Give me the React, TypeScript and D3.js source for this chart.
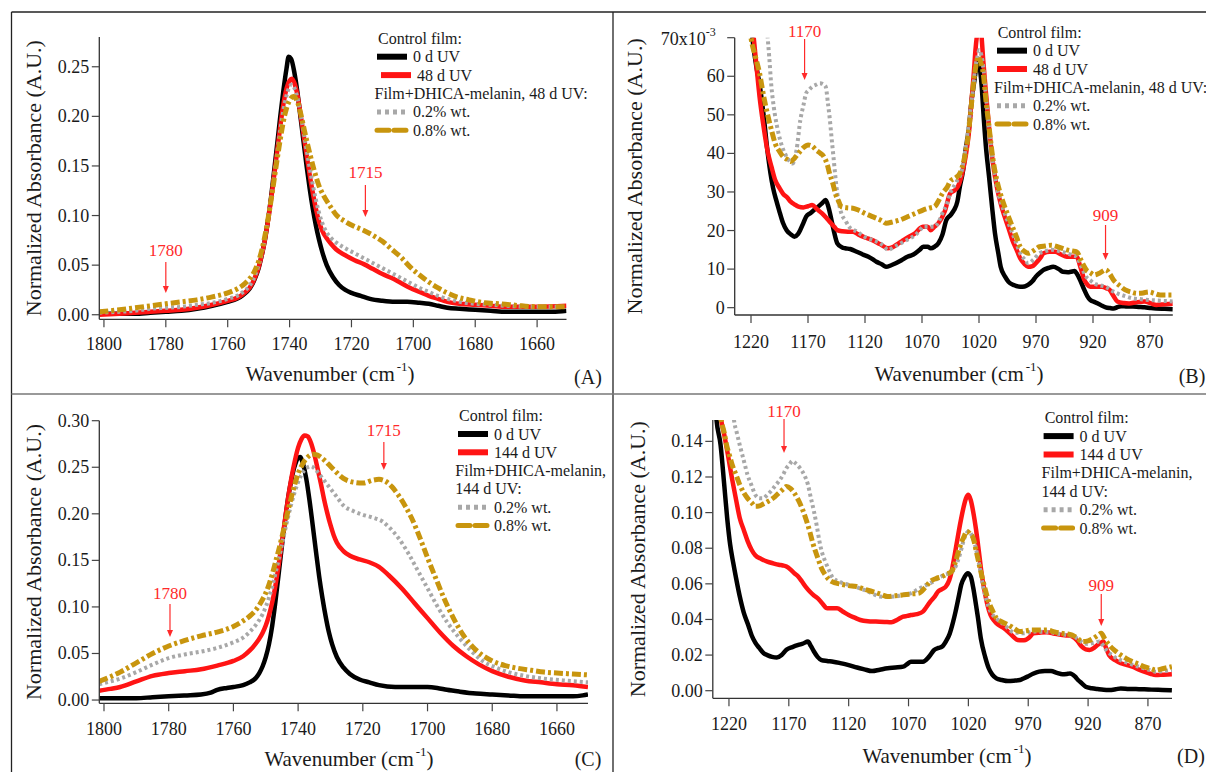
import React from 'react';
import * as d3 from 'd3';

type Pt = [number, number];

// ---------------- Panel A : carbonyl region, 48 d UV ----------------
const A_black: Pt[] = [[1801.5,0.001],[1795,0.001],[1790,0.001],[1785,0.002],[1780,0.003],[1775,0.004],[1770,0.006],[1765,0.009],[1760,0.013],[1757,0.016],[1755,0.020],[1753,0.026],[1752,0.031],[1751,0.038],[1750,0.047],[1749,0.060],[1748,0.075],[1747,0.095],[1746,0.118],[1745,0.145],[1744,0.172],[1743,0.200],[1742,0.226],[1741,0.248],[1740.3,0.260],[1739.5,0.258],[1738.5,0.245],[1737.5,0.225],[1736.5,0.200],[1735.5,0.175],[1734.5,0.150],[1733.5,0.127],[1732.5,0.107],[1731.5,0.090],[1730.5,0.076],[1729.5,0.064],[1728,0.050],[1726,0.038],[1724,0.030],[1722,0.025],[1720,0.022],[1717,0.019],[1714,0.016],[1710,0.014],[1706,0.013],[1702,0.013],[1698,0.012],[1695,0.011],[1692,0.009],[1689,0.007],[1685,0.006],[1680,0.005],[1675,0.004],[1670,0.003],[1665,0.003],[1660,0.003],[1655,0.003],[1650.5,0.004]];
const A_red: Pt[] = [[1801.5,0.000],[1795,0.001],[1790,0.002],[1785,0.003],[1780,0.004],[1775,0.005],[1770,0.007],[1765,0.010],[1760,0.014],[1757,0.017],[1755,0.021],[1753,0.027],[1752,0.032],[1751,0.039],[1750,0.048],[1749,0.060],[1748,0.075],[1747,0.094],[1746,0.116],[1745,0.140],[1744,0.165],[1743,0.190],[1742,0.212],[1741,0.228],[1740,0.236],[1739.3,0.238],[1738.5,0.234],[1737.5,0.222],[1736.5,0.203],[1735.5,0.182],[1734.5,0.161],[1733.5,0.141],[1732.5,0.123],[1731.5,0.107],[1730.5,0.094],[1729.5,0.085],[1728,0.077],[1726.5,0.071],[1725,0.066],[1722,0.060],[1719,0.055],[1716,0.051],[1713,0.046],[1710,0.041],[1707,0.037],[1704,0.032],[1701,0.027],[1698,0.023],[1695,0.019],[1692,0.016],[1689,0.013],[1685,0.011],[1680,0.010],[1675,0.009],[1670,0.008],[1660,0.008],[1650.5,0.009]];
const A_gray: Pt[] = [[1801.5,0.002],[1795,0.003],[1790,0.004],[1785,0.006],[1780,0.007],[1775,0.008],[1770,0.010],[1765,0.012],[1760,0.016],[1757,0.019],[1755,0.023],[1753,0.029],[1752,0.034],[1751,0.041],[1750,0.050],[1749,0.062],[1748,0.077],[1747,0.096],[1746,0.117],[1745,0.140],[1744,0.163],[1743,0.186],[1742,0.206],[1741,0.221],[1740,0.230],[1739.3,0.232],[1738.5,0.229],[1737.5,0.219],[1736.5,0.203],[1735.5,0.185],[1734.5,0.166],[1733.5,0.148],[1732.5,0.131],[1731.5,0.116],[1730.5,0.103],[1729.5,0.093],[1728,0.083],[1726.5,0.077],[1725,0.073],[1722,0.067],[1719,0.062],[1716,0.057],[1713,0.052],[1710,0.047],[1707,0.042],[1704,0.037],[1701,0.032],[1698,0.027],[1695,0.023],[1692,0.019],[1689,0.016],[1685,0.013],[1680,0.011],[1675,0.010],[1670,0.009],[1660,0.008],[1650.5,0.008]];
const A_gold: Pt[] = [[1801.5,0.003],[1795,0.005],[1790,0.007],[1785,0.009],[1780,0.011],[1775,0.013],[1770,0.015],[1765,0.018],[1760,0.022],[1757,0.026],[1755,0.030],[1753,0.036],[1752,0.040],[1751,0.046],[1750,0.054],[1749,0.065],[1748,0.079],[1747,0.096],[1746,0.115],[1745,0.136],[1744,0.157],[1743,0.177],[1742,0.195],[1741,0.208],[1740,0.216],[1738.8,0.220],[1737.5,0.215],[1736.5,0.204],[1735.5,0.190],[1734.5,0.176],[1733.5,0.163],[1732,0.145],[1730.5,0.130],[1729,0.120],[1727,0.110],[1725,0.101],[1722,0.094],[1719,0.089],[1716,0.085],[1713,0.080],[1710,0.074],[1707,0.066],[1704,0.058],[1701,0.048],[1698,0.040],[1695,0.033],[1692,0.027],[1689,0.022],[1686,0.018],[1682,0.015],[1677,0.012],[1672,0.011],[1665,0.009],[1660,0.008],[1655,0.008],[1650.5,0.008]];

// ---------------- Panel B : fingerprint region, 48 d UV (x10^-3) ----------------
const B_black: Pt[] = [[1236,100],[1222,80],[1218,68],[1215,62],[1212.5,58],[1209,50],[1205.7,41],[1203,35],[1200.6,31],[1198,28],[1195.4,25.3],[1192,22],[1188.6,20],[1185,19],[1182,18.4],[1179,19],[1176.7,20.2],[1174,22],[1171.6,23.6],[1168,24.5],[1164.7,25.3],[1161,26.2],[1157.9,27],[1154.5,27.9],[1152,26],[1149.4,22.7],[1147,19.5],[1144.3,16.7],[1140,15.6],[1137.4,15.4],[1133,15.2],[1127.2,14.5],[1122,13.8],[1117,13.2],[1113,12.5],[1110,11.9],[1105,11.2],[1101.6,10.6],[1097,11],[1093,11.5],[1088,12.3],[1082.8,13.2],[1079,13.6],[1076,14.1],[1072,15],[1069,15.8],[1065,15.8],[1062.4,15.4],[1059,15.8],[1055.6,16.7],[1052,19],[1048.7,22.7],[1045,24],[1041.9,25.3],[1039,27.5],[1036.8,31.4],[1034,35.5],[1031.7,41],[1029,46],[1026.5,53.8],[1024,59],[1022.1,63],[1020.5,64],[1019,61.5],[1017.5,57],[1016.3,51.3],[1014,42],[1011.2,34],[1008.5,26],[1006,19.3],[1003,14],[1001,10.6],[997,8],[994.1,6.7],[989,5.8],[983.9,5.4],[980,5.5],[977,5.9],[973,6.9],[970.3,8],[966,9.2],[963.4,9.8],[959,10.3],[954.9,10.6],[950,10],[946.4,9.3],[942,9.2],[939.6,9.3],[936,9.5],[934.4,8.9],[931,7],[927.6,4.6],[925,3],[922.5,2],[919,1.5],[915.7,1.1],[912,0.5],[908.8,0.1],[905,-0.1],[902,-0.2],[898,0.2],[895.2,0.4],[890,0.3],[885,0.3],[880,0.2],[874.7,0.1],[869,-0.1],[864.5,-0.2],[857,-0.3],[850,-0.4]];
const B_red: Pt[] = [[1236,110],[1222,80],[1217.6,70],[1215,62],[1212.5,54.7],[1209,47],[1205.7,40.9],[1202,36.5],[1198.8,33.1],[1195,31],[1192,29.6],[1188,28.5],[1185.2,27.5],[1182,26.8],[1178.4,26.2],[1174,26],[1170,26.3],[1166.4,26.6],[1162,25.5],[1157.9,24.5],[1154,23.3],[1151,22.3],[1147,21],[1144.3,20.1],[1140,19.8],[1135,19.7],[1130.6,19.7],[1126,19],[1120,18.2],[1113.6,17.5],[1107,16.5],[1100,15.4],[1095,15.8],[1090,16.8],[1086.3,17.5],[1081,18.5],[1076,19.3],[1072,20.5],[1069.2,21],[1065,21],[1062.4,20.1],[1059,21],[1055.6,21.9],[1050,25],[1045.3,29.6],[1041,30.5],[1038.5,31.4],[1035,34.5],[1031.7,39.2],[1029,45],[1026.5,53.8],[1024.5,61],[1023.1,66.8],[1021,72],[1019.7,73],[1018,71],[1016.3,64.2],[1014,56],[1011.2,46.9],[1008,38],[1004.4,31.4],[1001,27],[997.5,23.6],[994,20.5],[990.7,17.5],[987,15],[983.9,12.8],[980,11.3],[977,10.6],[973,10.8],[970.3,11.5],[966,13],[963.4,14.1],[958,14.5],[953.2,14.5],[948,13.8],[943,13.2],[938,13.2],[934.4,13.2],[931,10.5],[927.6,7.2],[925,6],[922.5,5.4],[917,5.4],[912.3,5.4],[908,5],[905.4,4.6],[902,3],[898.6,1.6],[893,1.2],[888.4,1.1],[882,1.4],[874.7,1.6],[869,1.1],[864.5,0.7],[857,0.9],[850,1]];
const B_gray: Pt[] = [[1236,140],[1212,90],[1206,72],[1204,65],[1202.3,58],[1200,52],[1197.1,46.9],[1194,43],[1190.3,40],[1187,38.3],[1183.5,37.4],[1180,41],[1176.7,48.7],[1174,52.5],[1171.6,55.6],[1169,56.5],[1166.4,57.3],[1163,57.8],[1159.6,58.2],[1157,58],[1154.5,57.3],[1152.5,53],[1151.1,49.5],[1149.3,44],[1147.7,39.2],[1146,34],[1144.3,29.6],[1142.5,26.5],[1140.8,24.5],[1137,22.5],[1134,21],[1127,19.7],[1120.4,18.4],[1113,17.5],[1106.7,16.7],[1103,15.8],[1100,15],[1093,16],[1086.3,17.1],[1081,17.9],[1076,18.8],[1072,20],[1069,21],[1064,21],[1059,21],[1055,22.5],[1052.1,24.5],[1048,27],[1045.3,29.6],[1040,32.5],[1035,35.7],[1031.5,42],[1028.3,49.5],[1025.5,56],[1023.1,62.5],[1021,65.5],[1019.7,66.8],[1018,65.5],[1016.3,62.5],[1014,55],[1011.2,46.9],[1008,38],[1004.4,31.4],[1001,27.5],[997.5,24.5],[994,21.8],[990.7,19.3],[987,16.5],[983.9,14.1],[980,12.5],[977,11.5],[972,12.5],[966.9,14.1],[962,14.6],[956.6,15],[950,14.7],[943,14.1],[938,13.6],[934.4,13.2],[930,10.5],[925.9,8],[922,7],[919.1,6.3],[914,5.8],[908.8,5.4],[904,4.5],[898.6,3.7],[892,3],[885,2.4],[878,2.2],[871.3,2],[860,1.8],[850,1.6]];
const B_gold: Pt[] = [[1236,110],[1222,75],[1220,70],[1216,65],[1212.5,60.8],[1209,55],[1205.7,50.4],[1202,46],[1198.8,42.6],[1195,40.5],[1192,39.2],[1188,38.4],[1185.2,37.9],[1182,38.7],[1178.4,40],[1174,41.5],[1169.8,42.2],[1166,41.8],[1163,40.9],[1159,40],[1156.2,39.2],[1153,37],[1151.1,34.8],[1148,32],[1146,29.6],[1143,27.5],[1140.8,26.2],[1136,25.9],[1130.6,25.8],[1125,25.2],[1120.4,24.5],[1115,23.8],[1110.1,23.2],[1105,22.5],[1101.6,21.9],[1095,22.3],[1089.7,22.7],[1084,23.4],[1079.4,24],[1074,24.7],[1069.2,25.3],[1064,25.8],[1059,26.2],[1055,28],[1052.1,29.6],[1048,31.2],[1045.3,32.7],[1040,33.8],[1036.8,34.8],[1033,38.5],[1030,43.5],[1027.5,50],[1024.8,58.2],[1022.5,63],[1020.8,65.1],[1019,64],[1016.3,60.8],[1014,54],[1011.2,46.9],[1008,39],[1004.4,33.1],[1001,29.3],[997.5,26.2],[994,23.5],[990.7,21],[987,18.3],[983.9,15.8],[980,14.6],[977,14.1],[972,14.8],[966.9,15.8],[962,16],[956.6,16.2],[950,15.7],[943,15],[938,14.7],[934.4,14.5],[930,12],[925.9,9.8],[922,9],[919.1,8.5],[914,9],[908.8,9.8],[905,8.6],[902,7.2],[897,5.8],[891.7,4.6],[886,4],[881.5,3.7],[876,3.8],[871.3,4.1],[866,3.7],[861.1,3.3],[855,3.3],[850,3.3]];

// ---------------- Panel C : carbonyl region, 144 d UV ----------------
const C_black: Pt[] = [[1801.5,0.002],[1795,0.002],[1790,0.002],[1785,0.003],[1780,0.004],[1775,0.005],[1770,0.006],[1767,0.008],[1765,0.011],[1762,0.013],[1760,0.014],[1757,0.016],[1755,0.019],[1753,0.024],[1752,0.029],[1751,0.036],[1750,0.046],[1749,0.060],[1748,0.080],[1747,0.106],[1746,0.136],[1745,0.166],[1744,0.194],[1743,0.219],[1742,0.238],[1741,0.252],[1740,0.260],[1739.4,0.261],[1738.5,0.254],[1737.5,0.238],[1736.5,0.215],[1735.5,0.188],[1734.5,0.160],[1733.5,0.133],[1732.5,0.110],[1731.5,0.090],[1730.5,0.073],[1729.5,0.060],[1728,0.046],[1726,0.035],[1724,0.028],[1721,0.022],[1718,0.019],[1715,0.016],[1710,0.014],[1705,0.014],[1700,0.014],[1697,0.013],[1694,0.011],[1690,0.009],[1685,0.007],[1680,0.006],[1675,0.005],[1670,0.004],[1665,0.004],[1660,0.004],[1655,0.004],[1652,0.005],[1650.4,0.006]];
const C_red: Pt[] = [[1801.5,0.010],[1798,0.012],[1795,0.014],[1790,0.020],[1785,0.026],[1780,0.029],[1775,0.031],[1770,0.033],[1765,0.037],[1760,0.042],[1757,0.047],[1755,0.053],[1753,0.061],[1752,0.066],[1751,0.072],[1750,0.080],[1749,0.091],[1748,0.105],[1747,0.123],[1746,0.145],[1745,0.170],[1744,0.195],[1743,0.219],[1742,0.240],[1741,0.257],[1740,0.271],[1739,0.280],[1738,0.284],[1737,0.283],[1736,0.276],[1735,0.264],[1734,0.249],[1733,0.233],[1732,0.216],[1731,0.201],[1730,0.188],[1729,0.177],[1728,0.169],[1726,0.160],[1724,0.155],[1721,0.151],[1718,0.148],[1715,0.143],[1712,0.134],[1708,0.120],[1704,0.104],[1700,0.088],[1696,0.072],[1692,0.058],[1688,0.047],[1684,0.038],[1680,0.031],[1675,0.025],[1670,0.021],[1665,0.019],[1660,0.017],[1655,0.016],[1650.4,0.014]];
const C_gray: Pt[] = [[1801.5,0.017],[1798,0.020],[1795,0.023],[1790,0.030],[1785,0.038],[1780,0.045],[1775,0.049],[1770,0.052],[1765,0.056],[1760,0.062],[1757,0.067],[1755,0.073],[1753,0.081],[1752,0.086],[1751,0.092],[1750,0.100],[1749,0.110],[1748,0.122],[1747,0.136],[1746,0.151],[1745,0.167],[1744,0.183],[1743,0.198],[1742,0.212],[1741,0.224],[1740,0.234],[1739,0.242],[1738,0.247],[1737,0.250],[1736,0.251],[1735,0.249],[1734,0.245],[1732,0.236],[1730,0.227],[1728,0.218],[1726,0.209],[1723,0.203],[1720,0.199],[1717,0.196],[1714,0.192],[1712,0.186],[1709,0.174],[1706,0.158],[1703,0.139],[1700,0.120],[1697,0.101],[1694,0.084],[1690,0.066],[1686,0.051],[1683,0.042],[1679,0.035],[1675,0.030],[1670,0.026],[1664,0.023],[1658,0.021],[1650.4,0.019]];
const C_gold: Pt[] = [[1801.5,0.020],[1798,0.025],[1795,0.030],[1790,0.040],[1785,0.050],[1780,0.058],[1775,0.064],[1770,0.069],[1765,0.073],[1760,0.079],[1757,0.085],[1755,0.090],[1753,0.097],[1752,0.102],[1751,0.108],[1750,0.115],[1749,0.124],[1748,0.135],[1747,0.148],[1746,0.161],[1745,0.175],[1744,0.190],[1743,0.205],[1742,0.219],[1741,0.232],[1740,0.243],[1739,0.251],[1738,0.257],[1737,0.261],[1735.5,0.264],[1734,0.263],[1732,0.258],[1730,0.251],[1728,0.244],[1726,0.238],[1723,0.234],[1720,0.233],[1717,0.236],[1715,0.237],[1713,0.235],[1711,0.229],[1709,0.220],[1707,0.209],[1705,0.196],[1703,0.180],[1701,0.162],[1699,0.144],[1697,0.127],[1695,0.110],[1692,0.088],[1689,0.070],[1686,0.057],[1683,0.048],[1680,0.042],[1676,0.037],[1672,0.034],[1668,0.032],[1664,0.030],[1660,0.029],[1655,0.028],[1650.4,0.027]];

// ---------------- Panel D : fingerprint region, 144 d UV ----------------
const D_black: Pt[] = [[1236,0.22],[1230.4,0.152],[1227,0.138],[1224,0.116],[1221.5,0.097],[1219,0.082],[1216.5,0.072],[1214,0.063],[1211,0.053],[1207.7,0.044],[1204,0.037],[1201,0.031],[1198,0.027],[1194.7,0.024],[1191,0.021],[1188,0.020],[1184,0.019],[1180,0.0186],[1176,0.020],[1172,0.023],[1167,0.0245],[1162,0.0257],[1158,0.0265],[1154,0.0276],[1151.5,0.025],[1149,0.022],[1146,0.019],[1142.7,0.0172],[1138,0.0167],[1133,0.0163],[1127,0.0155],[1120,0.0144],[1113,0.013],[1107,0.012],[1100.5,0.011],[1094,0.0118],[1087.5,0.0126],[1081,0.013],[1074.5,0.0135],[1071,0.015],[1068,0.0163],[1063,0.0163],[1058,0.0163],[1053,0.019],[1048.6,0.0229],[1045,0.024],[1042,0.0247],[1038.5,0.028],[1035.6,0.032],[1033,0.038],[1030.7,0.0444],[1028,0.053],[1026,0.0594],[1023,0.064],[1020.5,0.066],[1018,0.064],[1016,0.058],[1014.5,0.052],[1012,0.041],[1009.6,0.0294],[1006,0.019],[1003,0.0126],[1000,0.009],[996.6,0.0069],[992,0.006],[986.9,0.0054],[982,0.0056],[977,0.006],[973.5,0.007],[970.6,0.0079],[966,0.0095],[960.9,0.0107],[956,0.011],[951,0.011],[946,0.010],[941.4,0.0092],[937,0.0095],[935,0.0097],[931,0.008],[928.4,0.006],[925,0.004],[922,0.0022],[917,0.0014],[912,0.0009],[907,0.0005],[902.5,0.0004],[897,0.0008],[892.7,0.0013],[886,0.001],[880,0.0009],[873,0.0008],[867,0.0006],[858,0.0004],[850,0.0002]];
const D_red: Pt[] = [[1236,0.24],[1226.5,0.152],[1224,0.144],[1220.5,0.131],[1217.4,0.119],[1214,0.107],[1211,0.097],[1207.5,0.090],[1204.4,0.084],[1201,0.079],[1198,0.076],[1193,0.074],[1188,0.0725],[1183,0.0715],[1178.4,0.0707],[1175,0.0703],[1172,0.0697],[1168.5,0.068],[1165.5,0.066],[1162,0.064],[1159,0.0613],[1155.5,0.058],[1152.5,0.0557],[1149,0.0535],[1146,0.052],[1142,0.049],[1137.9,0.0463],[1134,0.0463],[1129.7,0.0463],[1125,0.0445],[1120,0.0425],[1115,0.041],[1110.3,0.0397],[1104,0.039],[1097.3,0.0388],[1090,0.0386],[1084.3,0.0384],[1079,0.040],[1074.5,0.0416],[1071,0.042],[1068,0.0425],[1063,0.043],[1058,0.0444],[1055,0.047],[1051.8,0.050],[1048,0.053],[1045.3,0.0557],[1042,0.057],[1038.8,0.0585],[1036,0.062],[1034,0.0669],[1031.5,0.076],[1029,0.0857],[1026.5,0.095],[1024.2,0.1025],[1022,0.108],[1020,0.110],[1018,0.107],[1016,0.1006],[1013.5,0.090],[1011.2,0.078],[1009,0.066],[1006.4,0.0557],[1004,0.048],[1001.5,0.0425],[998,0.039],[995,0.037],[990,0.035],[986.9,0.0332],[982,0.030],[978.8,0.0285],[975,0.0283],[972.3,0.0285],[969,0.030],[965.8,0.0322],[960,0.0326],[954.4,0.0328],[948,0.032],[941.4,0.0313],[937,0.031],[933.3,0.0304],[929,0.028],[925.2,0.0247],[922,0.0232],[918.7,0.0229],[915,0.024],[912.2,0.0257],[909,0.027],[907.3,0.0276],[905,0.024],[902.5,0.020],[897,0.017],[892.7,0.0154],[888,0.0145],[883,0.0135],[878,0.012],[873.2,0.0107],[868,0.0095],[863.5,0.0088],[857,0.009],[850,0.0092]];
const D_gray: Pt[] = [[1236,0.30],[1220,0.19],[1215.8,0.152],[1213.5,0.145],[1211,0.138],[1207.5,0.129],[1204.4,0.121],[1201,0.115],[1198,0.110],[1194.5,0.108],[1191.4,0.108],[1188,0.110],[1185,0.112],[1181.5,0.115],[1178.4,0.1175],[1175,0.121],[1172,0.125],[1169.5,0.127],[1167,0.129],[1164,0.1275],[1160.6,0.125],[1157,0.121],[1154,0.1157],[1151.5,0.108],[1149,0.1007],[1146.5,0.092],[1144.4,0.0838],[1142,0.077],[1139.5,0.0725],[1136,0.067],[1133,0.0632],[1127,0.061],[1120,0.0594],[1113,0.058],[1107,0.0566],[1100,0.0545],[1094,0.0529],[1087,0.0527],[1081,0.0529],[1074,0.054],[1068,0.0547],[1062,0.057],[1055,0.0594],[1050,0.061],[1045.3,0.0632],[1040,0.065],[1035.6,0.066],[1032,0.068],[1029,0.0725],[1026.5,0.078],[1024.2,0.0838],[1022,0.088],[1020,0.0894],[1017,0.087],[1014.5,0.082],[1011,0.071],[1008,0.0594],[1004.5,0.050],[1001.5,0.0444],[997.5,0.041],[993.4,0.0388],[988.5,0.036],[983.6,0.0332],[979,0.0325],[973.9,0.0322],[969,0.0328],[964.2,0.0332],[958,0.0331],[951.2,0.0328],[945,0.032],[938.2,0.0313],[935,0.031],[931.7,0.0304],[927.5,0.0285],[923.6,0.0266],[920,0.0262],[917,0.0266],[914,0.027],[910.6,0.0276],[907,0.025],[904,0.022],[900,0.020],[896,0.018],[891,0.0167],[886.2,0.0154],[880,0.014],[873.2,0.0126],[868,0.0115],[863.5,0.0107],[857,0.011],[850,0.0116]];
const D_gold: Pt[] = [[1236,0.24],[1226.5,0.152],[1224,0.145],[1222,0.138],[1219.5,0.132],[1217.4,0.127],[1214,0.121],[1211,0.1157],[1207.5,0.111],[1204.4,0.108],[1201,0.1055],[1198,0.1035],[1194.5,0.1038],[1191.4,0.1048],[1188,0.106],[1185,0.1072],[1181.5,0.109],[1178.4,0.111],[1175,0.113],[1172,0.1147],[1168.5,0.1135],[1165.5,0.111],[1162,0.107],[1159,0.1025],[1155.5,0.096],[1152.5,0.0894],[1150,0.083],[1147.6,0.078],[1145,0.073],[1142.7,0.0688],[1139.5,0.065],[1136.2,0.0622],[1131,0.0605],[1126.5,0.0598],[1120,0.059],[1113.5,0.0585],[1107,0.057],[1100.5,0.0557],[1094,0.0543],[1087.5,0.0529],[1081,0.0533],[1074.5,0.0538],[1068,0.0543],[1061.6,0.0547],[1056,0.058],[1051.8,0.0613],[1047,0.063],[1042,0.0641],[1038,0.0655],[1034,0.0669],[1030.5,0.073],[1027.5,0.080],[1024,0.086],[1021,0.0894],[1018.5,0.088],[1016,0.0857],[1013,0.077],[1009.6,0.0669],[1006,0.057],[1003,0.050],[999.5,0.0445],[996.6,0.0407],[991.5,0.0385],[986.9,0.037],[982,0.035],[977,0.0332],[972,0.0336],[967.4,0.0341],[961,0.0341],[954.4,0.0341],[948,0.033],[941.4,0.0322],[937,0.0318],[933.3,0.0313],[929,0.0295],[925.2,0.0276],[920,0.028],[915.5,0.0294],[912,0.031],[909,0.0322],[906,0.029],[902.5,0.0257],[897.5,0.0225],[892.7,0.020],[888,0.018],[883,0.0163],[878,0.015],[873.2,0.0135],[868,0.0125],[863.5,0.0116],[857,0.0125],[850,0.0135]];

// ---------------- ticks & labels ----------------
const xTicksCarbonyl = [1800, 1780, 1760, 1740, 1720, 1700, 1680, 1660];
const xTicksFinger = [1220, 1170, 1120, 1070, 1020, 970, 920, 870];
const yTicksA = [0, 0.05, 0.1, 0.15, 0.2, 0.25];
const yTicksB = [0, 10, 20, 30, 40, 50, 60];
const yTicksC = [0, 0.05, 0.1, 0.15, 0.2, 0.25, 0.3];
const yTicksD = [0, 0.02, 0.04, 0.06, 0.08, 0.1, 0.12, 0.14];
const legend48 = ['0 d UV', '48 d UV', '0.2% wt.', '0.8% wt.'];
const legend144 = ['0 d UV', '144 d UV', '0.2% wt.', '0.8% wt.'];

const FONT = 'Liberation Serif, DejaVu Serif, serif';
const RED_TXT = '#ff2a2a';

const STYLES = [
  { stroke: '#000000', width: 4.5, dash: undefined as string | undefined, ldash: undefined as string | undefined },
  { stroke: '#ff1414', width: 4.5, dash: undefined, ldash: undefined },
  { stroke: '#a8a8a8', width: 4, dash: '3 3', ldash: '4 4' },
  { stroke: '#c8950e', width: 5, dash: '9 3 3 3', ldash: '12 5' },
];

type Cfg = {
  id: string;
  left: number; right: number; top: number; bottom: number;
  xDomain: [number, number]; yDomain: [number, number];
  xTicks: number[]; yTicks: number[]; yFmt: (v: number) => string;
  series: Pt[][];
  xLabelY: number; xTitleX: number; xTitleY: number; yTitleX: number;
  tag: string; tagX: number; tagY: number;
  legend: { x: number; y: number; step: number; labels: string[]; film: string[]; row2dx: number; hx: number; fx: number };
  notes: { w: number; label: string; ty: number; y1: number; y2: number }[];
  topLabel?: boolean;
};

const f2 = (v: number) => d3.format('.2f')(v);
const f0 = (v: number) => d3.format('d')(v);

const panels: Cfg[] = [
  {
    id: 'A', left: 99.3, right: 566.5, top: 37, bottom: 319.3,
    xDomain: [1801.5, 1650.5], yDomain: [-0.0046, 0.28],
    xTicks: xTicksCarbonyl, yTicks: yTicksA, yFmt: f2,
    series: [A_black, A_red, A_gray, A_gold],
    xLabelY: 349.5, xTitleX: 330, xTitleY: 381, yTitleX: 41,
    tag: '(A)', tagX: 588, tagY: 384,
    legend: { x: 377, y: 38.3, step: 18.4, labels: legend48, film: ['Film+DHICA-melanin, 48 d UV:'], row2dx: 4, hx: 1, fx: -2.5 },
    notes: [
      { w: 1780, label: '1780', ty: 256, y1: 262, y2: 293 },
      { w: 1715.5, label: '1715', ty: 177.5, y1: 185, y2: 217 },
    ],
  },
  {
    id: 'B', left: 734.7, right: 1172.8, top: 37.7, bottom: 315,
    xDomain: [1234.3, 850], yDomain: [-1.9, 70],
    xTicks: xTicksFinger, yTicks: yTicksB, yFmt: f0,
    series: [B_black, B_red, B_gray, B_gold],
    xLabelY: 347.5, xTitleX: 959, xTitleY: 381, yTitleX: 642,
    tag: '(B)', tagX: 1192, tagY: 383,
    legend: { x: 997, y: 32.3, step: 18.35, labels: legend48, film: ['Film+DHICA-melanin, 48 d UV:'], row2dx: 0, hx: 0.7, fx: -3 },
    notes: [
      { w: 1173, label: '1170', ty: 36.5, y1: 39, y2: 80 },
      { w: 909, label: '909', ty: 221, y1: 225, y2: 260 },
    ],
    topLabel: true,
  },
  {
    id: 'C', left: 99.3, right: 588, top: 420.7, bottom: 703.3,
    xDomain: [1801.45, 1650.4], yDomain: [-0.0035, 0.3],
    xTicks: xTicksCarbonyl, yTicks: yTicksC, yFmt: f2,
    series: [C_black, C_red, C_gray, C_gold],
    xLabelY: 735, xTitleX: 349, xTitleY: 766, yTitleX: 41,
    tag: '(C)', tagX: 588, tagY: 766,
    legend: { x: 458, y: 415.7, step: 18.3, labels: legend144, film: ['Film+DHICA-melanin,', '144 d UV:'], row2dx: 0, hx: 1, fx: -2.7 },
    notes: [
      { w: 1779.6, label: '1780', ty: 599, y1: 604, y2: 637 },
      { w: 1713.5, label: '1715', ty: 436, y1: 442, y2: 470 },
    ],
  },
  {
    id: 'D', left: 712.8, right: 1172, top: 420, bottom: 698.3,
    xDomain: [1233.5, 849.9], yDomain: [-0.00427, 0.152],
    xTicks: xTicksFinger, yTicks: yTicksD, yFmt: f2,
    series: [D_black, D_red, D_gray, D_gold],
    xLabelY: 730, xTitleX: 947, xTitleY: 763, yTitleX: 645,
    tag: '(D)', tagX: 1191, tagY: 763,
    legend: { x: 1043.6, y: 417.7, step: 18.4, labels: legend144, film: ['Film+DHICA-melanin,', '144 d UV:'], row2dx: 0, hx: 1.1, fx: -2 },
    notes: [
      { w: 1174, label: '1170', ty: 417, y1: 419, y2: 453 },
      { w: 909, label: '909', ty: 591, y1: 594, y2: 626 },
    ],
  },
];

function Panel({ c }: { c: Cfg }) {
  const xs = d3.scaleLinear().domain(c.xDomain).range([c.left, c.right]);
  const ys = d3.scaleLinear().domain(c.yDomain).range([c.bottom, c.top]);
  const line = d3.line<Pt>().x((d) => xs(d[0])).y((d) => ys(d[1])).curve(d3.curveMonotoneX);
  const clipId = 'clip' + c.id;
  const L = c.legend;
  const rows: React.ReactNode[] = [];
  const sampleLen = 30;
  const sample = (i: number, y: number, dx: number) => {
    const s = STYLES[i];
    return (
      <g key={'s' + i}>
        <line x1={L.x + dx} x2={L.x + dx + sampleLen} y1={y} y2={y} stroke={s.stroke}
          strokeWidth={i >= 2 ? 5 : 6} strokeDasharray={s.ldash} strokeLinecap={i === 3 ? 'round' : 'butt'} />
        <text x={L.x + dx + 36} y={y + 5.5} fontSize={16} fill="#1a1a1a">{L.labels[i]}</text>
      </g>
    );
  };
  let r = 0;
  rows.push(<text key="h" x={L.x + L.hx} y={L.y + 5.5} fontSize={16} fill="#1a1a1a">Control film:</text>);
  r++;
  rows.push(sample(0, L.y + r * L.step, 0)); r++;
  rows.push(sample(1, L.y + r * L.step, L.row2dx)); r++;
  L.film.forEach((t, k) => {
    rows.push(<text key={'f' + k} x={L.x + L.fx} y={L.y + r * L.step + 5.5} fontSize={16} fill="#1a1a1a">{t}</text>);
    r++;
  });
  rows.push(sample(2, L.y + r * L.step, 0)); r++;
  rows.push(sample(3, L.y + r * L.step, 0)); r++;

  const yMid = (c.top + c.bottom) / 2;
  return (
    <g>
      <defs>
        <clipPath id={clipId}>
          <rect x={c.left} y={c.top} width={c.right - c.left} height={c.bottom - c.top} />
        </clipPath>
      </defs>
      <g clipPath={`url(#${clipId})`}>
        {c.series.map((s, i) => (
          <path key={i} d={line(s) || ''} fill="none" stroke={STYLES[i].stroke} strokeWidth={STYLES[i].width}
            strokeDasharray={STYLES[i].dash} strokeLinejoin="round" />
        ))}
      </g>
      {/* axes */}
      <line x1={c.left} x2={c.left} y1={c.top} y2={c.bottom} stroke="#333" strokeWidth={1.3} />
      <line x1={c.left} x2={c.right} y1={c.bottom} y2={c.bottom} stroke="#333" strokeWidth={1.3} />
      {c.yTicks.map((t) => (
        <g key={'y' + t}>
          <line x1={c.left - 7.5} x2={c.left} y1={ys(t)} y2={ys(t)} stroke="#444" strokeWidth={1.2} />
          <text x={c.left - 10} y={ys(t) + 6} fontSize={18} textAnchor="end" fill="#1a1a1a">{c.yFmt(t)}</text>
        </g>
      ))}
      {c.topLabel && (
        <g>
          <line x1={c.left - 7.5} x2={c.left} y1={ys(70)} y2={ys(70)} stroke="#444" strokeWidth={1.2} />
          <text x={c.left - 19} y={ys(70) + 7} fontSize={18} textAnchor="end" fill="#1a1a1a">
            70x10<tspan dy={-9} fontSize={12}>-3</tspan>
          </text>
        </g>
      )}
      {c.xTicks.map((t) => (
        <g key={'x' + t}>
          <line x1={xs(t)} x2={xs(t)} y1={c.bottom} y2={c.bottom + 8} stroke="#444" strokeWidth={1.2} />
          <text x={xs(t)} y={c.xLabelY} fontSize={18} textAnchor="middle" fill="#1a1a1a">{t}</text>
        </g>
      ))}
      <text x={c.xTitleX} y={c.xTitleY} fontSize={21} textAnchor="middle" fill="#1a1a1a">
        Wavenumber (cm<tspan dx={2} dy={-10} fontSize={13}>-1</tspan><tspan dy={10}>)</tspan>
      </text>
      <text transform={`translate(${c.yTitleX},${yMid}) rotate(-90)`} fontSize={22} textAnchor="middle" fill="#1a1a1a">
        Normalized Absorbance (A.U.)
      </text>
      <text x={c.tagX} y={c.tagY} fontSize={20} textAnchor="middle" fill="#1a1a1a">{c.tag}</text>
      {rows}
      {c.notes.map((n, k) => {
        const x = xs(n.w);
        return (
          <g key={'n' + k}>
            <text x={x} y={n.ty} fontSize={17} textAnchor="middle" fill={RED_TXT}>{n.label}</text>
            <line x1={x} x2={x} y1={n.y1} y2={n.y2 - 6} stroke={RED_TXT} strokeWidth={1.2} />
            <path d={`M${x - 3},${n.y2 - 7} L${x + 3},${n.y2 - 7} L${x},${n.y2} Z`} fill={RED_TXT} />
          </g>
        );
      })}
    </g>
  );
}

export default function App() {
  return (
    <svg width={1206} height={772} fontFamily={FONT}
      style={{ position: 'absolute', left: 0, top: 0, background: '#fff', fontFamily: FONT }}>
      <rect x={0} y={0} width={1206} height={772} fill="#fff" />
      {/* figure frame */}
      <line x1={11.5} x2={1206} y1={12} y2={12} stroke="#222" strokeWidth={1.3} />
      <line x1={11.5} x2={11.5} y1={12} y2={772} stroke="#222" strokeWidth={1.3} />
      <line x1={613} x2={613} y1={12} y2={772} stroke="#222" strokeWidth={1.3} />
      <line x1={11.5} x2={1206} y1={394} y2={394} stroke="#777" strokeWidth={1.3} />
      {panels.map((p) => <Panel key={p.id} c={p} />)}
    </svg>
  );
}
